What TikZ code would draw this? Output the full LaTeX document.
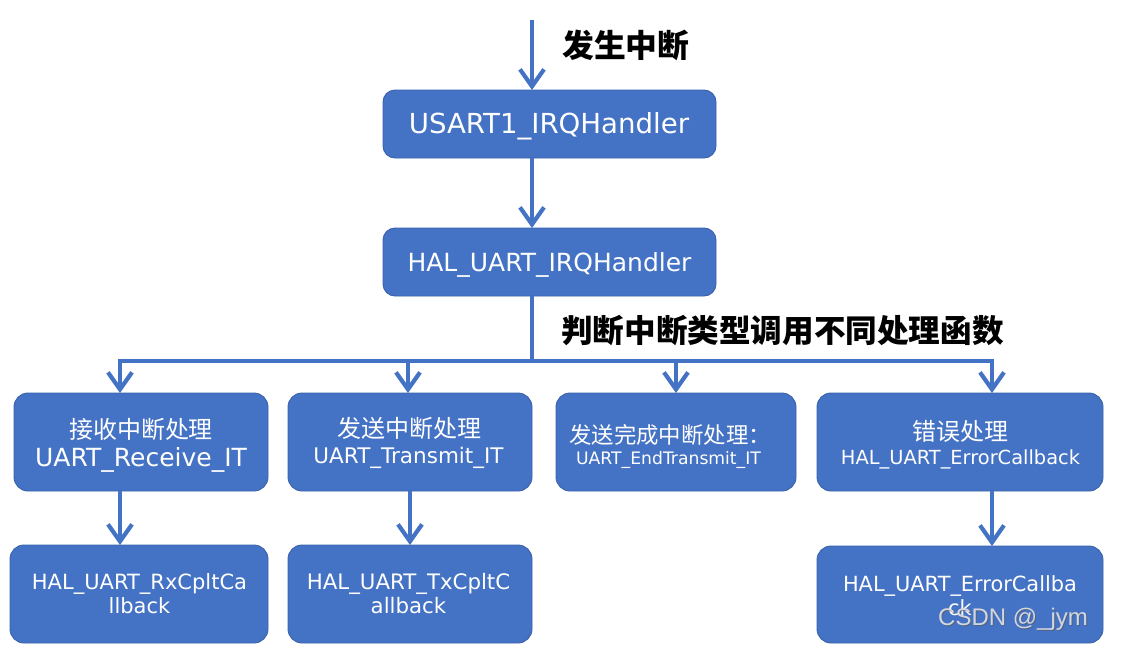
\documentclass[tikz,border=0pt]{standalone}
\usepackage{fontspec}
\setmainfont{DejaVu Sans}
\newfontfamily\cjk{Noto Sans CJK SC}
\newfontfamily\wmfont{Liberation Sans}
\usetikzlibrary{arrows.meta}
\definecolor{boxblue}{HTML}{4472C4}
\definecolor{boxedge}{HTML}{3A62AC}
\definecolor{wmgray}{HTML}{D4D6DE}
\begin{document}
\begin{tikzpicture}[x=1pt,y=-1pt,
  box/.style={draw=boxedge, line width=0.9pt, fill=boxblue, rounded corners=14pt,
    inner sep=0pt, outer sep=0pt},
  topbox/.style={box, rounded corners=12pt, minimum width=333pt, minimum height=68pt},
  rowbox/.style={box, minimum height=98pt},
  txt/.style={anchor=base, text=white, inner sep=0pt},
  lbl/.style={anchor=base west, inner sep=0pt, text=black},
  conn/.style={draw=boxblue, line width=4.2pt},
  arr/.style={conn, -{Straight Barb[length=17pt, width=24pt]}},
]
\useasboundingbox (0,0) rectangle (1136,664);

% boxes
\node[topbox] (b1) at (549.5,124) {};
\node[topbox] (b2) at (549.5,262) {};
\node[rowbox, minimum width=254pt] (bA) at (141,442) {};
\node[rowbox, minimum width=244pt] (bB) at (410,442) {};
\node[rowbox, minimum width=240pt] (bC) at (676,442) {};
\node[rowbox, minimum width=286pt] (bD) at (960,442) {};
\node[rowbox, minimum width=258pt] (bE) at (139,594) {};
\node[rowbox, minimum width=244pt] (bF) at (410,594) {};
\node[rowbox, minimum width=286pt, minimum height=97pt] (bG) at (960,594.5) {};

% texts
\node[txt, font=\fontsize{27.6}{30}\selectfont] (t1) at (549,133) {USART1\_IRQHandler};
\node[txt, font=\fontsize{25}{28}\selectfont] (t2) at (549.5,271) {HAL\_UART\_IRQHandler};

\node[txt, font=\cjk\fontsize{24}{28}\selectfont] (tA1) at (141,438) {接收中断处理};
\node[txt, font=\fontsize{25}{28}\selectfont] (tA2) at (141,466) {UART\_Receive\_IT};

\node[txt, font=\cjk\fontsize{24}{28}\selectfont] (tB1) at (409.5,437) {发送中断处理};
\node[txt, font=\fontsize{21.5}{26}\selectfont] (tB2) at (408.5,463) {UART\_Transmit\_IT};

\node[txt, font=\cjk\fontsize{22.4}{26}\selectfont] (tC1) at (670,443.5) {发送完成中断处理：};
\node[txt, font=\fontsize{17.2}{20}\selectfont] (tC2) at (668.5,464) {UART\_EndTransmit\_IT};

\node[txt, font=\cjk\fontsize{24}{28}\selectfont] (tD1) at (960,440) {错误处理};
\node[txt, font=\fontsize{19.4}{24}\selectfont] (tD2) at (960.5,464) {HAL\_UART\_ErrorCallback};

\node[txt, font=\fontsize{21}{24}\selectfont] (tE1) at (139.5,589) {HAL\_UART\_RxCpltCa};
\node[txt, font=\fontsize{21}{24}\selectfont] (tE2) at (139.5,613) {llback};

\node[txt, font=\fontsize{21.3}{24}\selectfont] (tF1) at (408.5,589) {HAL\_UART\_TxCpltC};
\node[txt, font=\fontsize{21.3}{24}\selectfont] (tF2) at (408.5,613) {allback};

\node[txt, font=\fontsize{20.9}{24}\selectfont] (tG1) at (960,591) {HAL\_UART\_ErrorCallba};
\node[txt, font=\fontsize{20.9}{24}\selectfont] (tG2) at (960,615) {ck};

% labels
\node[lbl, font=\cjk\bfseries\fontsize{31.8}{34}\selectfont] (l1) at (562,57.5) {发生中断};
\node[lbl, font=\cjk\bfseries\fontsize{31.6}{34}\selectfont] (l2) at (561,342) {判断中断类型调用不同处理函数};

% watermark
\node[anchor=base west, inner sep=0pt, text=gray!70!black, opacity=0.6, font=\wmfont\fontsize{24}{26}\selectfont] (wms) at (939,626) {CSDN @\_jym};
\node[anchor=base west, inner sep=0pt, text=wmgray, font=\wmfont\fontsize{24}{26}\selectfont] (wm) at (938,625) {CSDN @\_jym};

% connectors
\coordinate (top) at (532,20);
\coordinate (hA) at (120,361);
\coordinate (hB) at (408,361);
\coordinate (hC) at (676,361);
\coordinate (hD) at (992,361);
\coordinate (hM) at (532,361);
\coordinate (vB) at (410,0);

\draw[arr] (top) -- (top |- b1.north);
\draw[arr] (b1.south -| top) -- (b2.north -| top);
\draw[conn] (b2.south -| top) -- (hM);
\draw[conn, line cap=rect] (hA) -- (hD);
\draw[arr] (hA) -- (hA |- bA.north);
\draw[arr] (hB) -- (hB |- bB.north);
\draw[arr] (hC) -- (hC |- bC.north);
\draw[arr] (hD) -- (hD |- bD.north);
\draw[arr] (bA.south -| hA) -- (bE.north -| hA);
\draw[arr] (bB.south -| vB) -- (bF.north -| vB);
\draw[arr] (bD.south -| hD) -- (bG.north -| hD);
\end{tikzpicture}
\end{document}
